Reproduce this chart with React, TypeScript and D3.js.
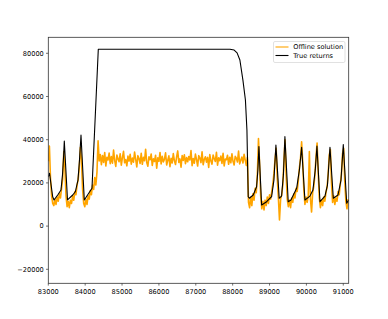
import React from 'react';
import * as d3 from 'd3';

const W = 388;
const H = 319;

const xTicks = [83000, 84000, 85000, 86000, 87000, 88000, 89000, 90000, 91000];
const yTicks = [-20000, 0, 20000, 40000, 60000, 80000];
const seriesNames = ['Offline solution', 'True returns'];

// Offline solution: sampled every 30 time steps starting at 83000 (values in thousands)
const offlineStart = 83000;
const offlineStep = 30;
const offlineValues = [
  30.0, 37.0, 22.0, 14.0, 10.5, 9.5, 12.5, 10.0, 13.5, 11.5,
  15.0, 13.0, 17.5, 22.0, 34.5, 27.0, 14.0, 9.0, 11.5, 8.5,
  12.0, 10.5, 14.0, 12.0, 16.0, 14.5, 19.0, 21.5, 27.0, 36.5,
  31.0, 17.0, 10.5, 9.0, 12.5, 10.0, 14.0, 12.5, 16.5, 14.5,
  19.0, 17.0, 22.5, 19.0, 25.0, 39.5,
  30.2, 33.1, 28.4, 32.7, 29.5, 34.0, 27.8, 31.9, 30.6, 33.8,
  28.9, 32.2, 29.1, 35.2, 30.4, 27.6, 32.9, 31.1, 29.8, 33.5,
  28.2, 31.7, 34.6, 29.3, 30.8, 27.9, 32.4, 30.1, 33.2, 28.7,
  31.5, 29.6, 34.3, 30.9, 27.4, 32.6, 31.3, 29.0, 33.7, 28.6,
  31.8, 30.3, 35.6, 29.4, 27.7, 32.1, 30.7, 33.4, 28.1, 31.2,
  29.9, 32.8, 26.8, 31.6, 30.0, 34.1, 28.8, 32.3, 29.7, 31.0,
  33.9, 28.3, 30.5, 32.5, 27.5, 31.4, 29.2, 33.6, 30.2, 28.5,
  32.0, 34.8, 29.5, 31.1, 27.3, 32.7, 30.4, 33.0, 28.9, 31.7,
  29.8, 32.2, 30.6, 35.0, 28.0, 31.3, 29.1, 33.3, 30.8, 27.8,
  32.6, 31.5, 29.4, 34.4, 28.4, 30.9, 32.1, 29.6, 31.8, 27.2,
  33.1, 30.1, 28.7, 32.9, 31.2, 29.9, 34.2, 28.2, 31.6, 30.3,
  32.4, 29.0, 33.7, 27.9, 31.0, 30.7, 32.8, 28.6, 31.9, 29.3,
  33.5, 30.0, 28.3, 32.3, 31.4, 29.7, 34.7, 28.8, 30.5, 32.0,
  29.2, 33.2, 30.6, 28.1, 31.7,
  11.0, 8.5, 13.5, 9.5, 15.0, 12.0, 17.5, 15.5, 24.0, 40.5,
  29.0, 14.0, 8.0, 11.5, 7.5, 12.0, 9.5, 13.5, 10.5, 14.5,
  12.5, 16.0, 19.5, 24.5, 31.0, 36.0, 22.0, 13.0, 2.8, 12.5,
  14.5, 19.0, 30.0, 40.0, 24.0, 12.5, 9.0, 12.0, 8.5, 13.0,
  11.0, 15.0, 13.0, 17.5, 16.0, 21.0, 27.0, 31.5, 39.0, 30.0,
  17.0, 10.0, 13.5, 11.0, 14.0, 34.5, 12.5, 6.5, 15.5, 18.5,
  23.5, 32.0, 38.5, 25.0, 13.0, 8.5, 12.0, 9.5, 13.5, 11.5,
  15.5, 18.0, 24.0, 33.0, 35.5, 20.0, 11.0, 14.0, 10.0, 13.0,
  11.5, 16.0, 14.5, 19.5, 24.0, 33.5, 36.0, 21.0, 11.5, 8.0,
  12.5,
];

// True returns: time steps and values
const trueX = [
  83000, 83033, 83119, 83155, 83255, 83344, 83385, 83412, 83434, 83521,
  83662, 83733, 83805, 83846, 83887, 83976, 84096, 84185, 84356, 87925,
  88040, 88120, 88196, 88278, 88346, 88387, 88422, 88454, 88557, 88649,
  88684, 88712, 88785, 88921, 89056, 89119, 89173, 89262, 89327, 89376,
  89417, 89507, 89580, 89735, 89810, 89870, 89960, 90096, 90177, 90240,
  90286, 90368, 90503, 90571, 90639, 90730, 90857, 90938, 91000, 91093,
  91147,
];
const trueY = [
  22870, 24450, 13600, 12100, 14400, 16700, 23700, 31500, 39400, 12100,
  14400, 15900, 21300, 30600, 42100, 12100, 15200, 17500, 81900, 81900,
  81500, 80200, 76900, 67600, 58400, 44500, 13600, 12900, 14400, 18200,
  26000, 36800, 9800, 11300, 13600, 21300, 37500, 12900, 13900, 23700,
  41400, 11300, 12100, 17500, 26000, 36500, 12100, 13900, 16700, 26000,
  37000, 11300, 13900, 19000, 36500, 12900, 14400, 21300, 37800, 10600,
  12100,
];

const M = { left: 48.3, right: 348.7, top: 37.3, bottom: 283.3 };
const FONT = 'DejaVu Sans, sans-serif';
const FS = 6.6;

export default function App() {
  const x = d3.scaleLinear().domain([83000, 91147]).range([M.left, M.right]);
  const y = d3.scaleLinear().domain([-26480, 87400]).range([M.bottom, M.top]);

  const offline = offlineValues.map((v, i) => [offlineStart + i * offlineStep, v * 1000] as [number, number]);
  const truth = trueX.map((t, i) => [t, trueY[i]] as [number, number]);

  const line = d3.line<[number, number]>().x((d) => x(d[0])).y((d) => y(d[1]));

  return (
    <svg width={W} height={H} style={{ position: 'absolute', left: 0, top: 0, background: '#fff' }}>
      <defs>
        <clipPath id="plot">
          <rect x={M.left} y={M.top} width={M.right - M.left} height={M.bottom - M.top} />
        </clipPath>
      </defs>
      <rect x={0} y={0} width={W} height={H} fill="#fff" />
      <g clipPath="url(#plot)">
        <path d={line(offline) || ''} fill="none" stroke="#FFA500" strokeWidth={1.6} strokeLinejoin="round" />
        <path d={line(truth) || ''} fill="none" stroke="#000" strokeWidth={1.1} strokeLinejoin="round" />
      </g>
      <rect x={M.left} y={M.top} width={M.right - M.left} height={M.bottom - M.top} fill="none" stroke="#333" strokeWidth={0.8} />
      {xTicks.map((t) => (
        <g key={'x' + t}>
          <line x1={x(t)} x2={x(t)} y1={M.bottom} y2={M.bottom + 2.3} stroke="#333" strokeWidth={0.7} />
          <text x={x(t)} y={M.bottom + 10.2} fontFamily={FONT} fontSize={FS} textAnchor="middle" fill="#000">{t}</text>
        </g>
      ))}
      {yTicks.map((t) => (
        <g key={'y' + t}>
          <line x1={M.left - 2.3} x2={M.left} y1={y(t)} y2={y(t)} stroke="#333" strokeWidth={0.7} />
          <text x={M.left - 4.5} y={y(t) + 2.4} fontFamily={FONT} fontSize={FS} textAnchor="end" fill="#000">
            {t < 0 ? '\u2212' + Math.abs(t) : t}
          </text>
        </g>
      ))}
      <g>
        <rect x={273.5} y={41.5} width={71.5} height={21} rx={1.5} fill="#fff" fillOpacity={0.8} stroke="#ccc" strokeWidth={0.6} />
        <line x1={275.5} x2={288.5} y1={47} y2={47} stroke="#FFA500" strokeWidth={1.1} />
        <text x={293.3} y={49.3} fontFamily={FONT} fontSize={FS} fill="#000">{seriesNames[0]}</text>
        <line x1={275.5} x2={288.5} y1={55.5} y2={55.5} stroke="#000" strokeWidth={1.1} />
        <text x={293.3} y={57.8} fontFamily={FONT} fontSize={FS} fill="#000">{seriesNames[1]}</text>
      </g>
    </svg>
  );
}
